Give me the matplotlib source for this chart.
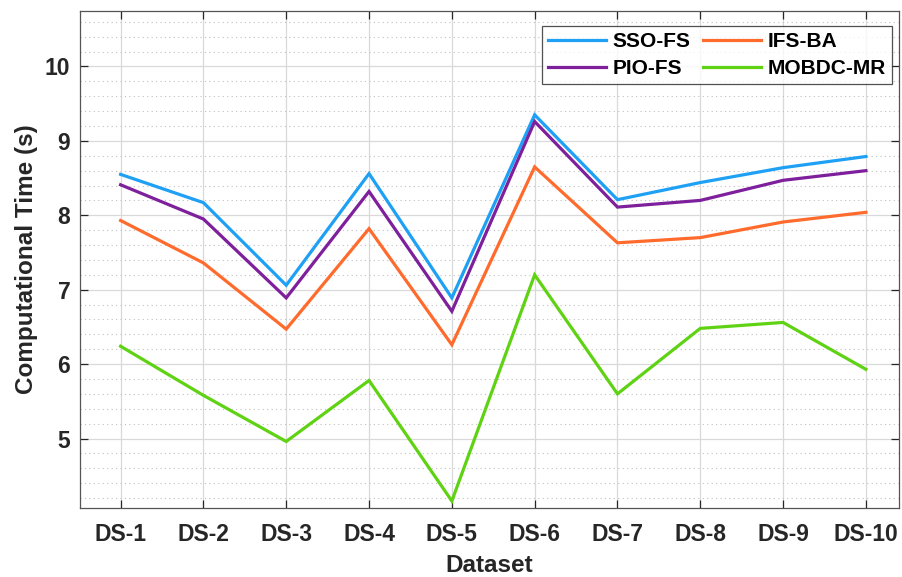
import matplotlib
matplotlib.use("Agg")
import matplotlib.pyplot as plt
from matplotlib.ticker import MultipleLocator

plt.rcParams['font.family'] = ['Liberation Sans', 'DejaVu Sans']

datasets = ["DS-1", "DS-2", "DS-3", "DS-4", "DS-5", "DS-6", "DS-7", "DS-8", "DS-9", "DS-10"]
sso_fs = [8.55, 8.17, 7.06, 8.56, 6.89, 9.35, 8.21, 8.44, 8.64, 8.79]
pio_fs = [8.41, 7.95, 6.89, 8.32, 6.71, 9.26, 8.11, 8.20, 8.47, 8.60]
ifs_ba = [7.93, 7.36, 6.47, 7.82, 6.26, 8.65, 7.63, 7.70, 7.91, 8.04]
mobdc_mr = [6.24, 5.58, 4.96, 5.78, 4.16, 7.20, 5.60, 6.48, 6.56, 5.93]

series = [
    ("SSO-FS", sso_fs, "#1ea0f5"),
    ("PIO-FS", pio_fs, "#7e1f9c"),
    ("IFS-BA", ifs_ba, "#ff6b2c"),
    ("MOBDC-MR", mobdc_mr, "#5fd313"),
]

text_color = "#262626"

fig = plt.figure(figsize=(9.02, 5.77), dpi=100)
ax = fig.add_axes([0.0887, 0.1201, 0.908, 0.8614])

x = list(range(1, len(datasets) + 1))
for name, vals, col in series:
    ax.plot(x, vals, color=col, lw=2.3, label=name, solid_joinstyle="miter")

ax.set_xlim(0.51, 10.4)
ax.set_ylim(4.07, 10.75)
ax.set_xticks(x)
ax.set_xticklabels(datasets)
ax.yaxis.set_major_locator(MultipleLocator(1))
ax.yaxis.set_minor_locator(MultipleLocator(0.2))

ax.grid(True, which="major", axis="both", color="#d9d9d9", lw=0.9)
ax.grid(True, which="minor", axis="y", color="#c0c0c0", lw=0.8, linestyle=(0, (1, 3)))
ax.set_axisbelow(True)

ax.tick_params(axis="both", which="major", direction="in", length=6, width=0.9,
               top=True, right=True, colors=text_color, labelsize=16.5)
ax.tick_params(axis="y", which="minor", left=False, right=False)
ax.tick_params(axis="x", pad=11)
ax.tick_params(axis="y", pad=7)
for lbl in ax.get_xticklabels() + ax.get_yticklabels():
    lbl.set_fontweight("bold")
    lbl.set_color(text_color)

for sp in ax.spines.values():
    sp.set_color("#555555")
    sp.set_linewidth(0.9)

ax.set_xlabel("Dataset", fontsize=17.5, fontweight="bold", color=text_color, labelpad=6)
ax.set_ylabel("Computational Time (s)", fontsize=17.5, fontweight="bold", color=text_color, labelpad=5)

leg = ax.legend(loc="upper right", ncol=2, fontsize=15, frameon=True, fancybox=False,
                handlelength=2.75, handletextpad=0.35, columnspacing=0.6,
                borderpad=0.3, labelspacing=0.4, borderaxespad=0.0,
                bbox_to_anchor=(0.992, 0.97))
leg.get_frame().set_edgecolor("#262626")
leg.get_frame().set_linewidth(0.9)
for t in leg.get_texts():
    t.set_fontweight("bold")
    t.set_color("black")

fig.savefig("out.png", dpi=100, facecolor="white")
